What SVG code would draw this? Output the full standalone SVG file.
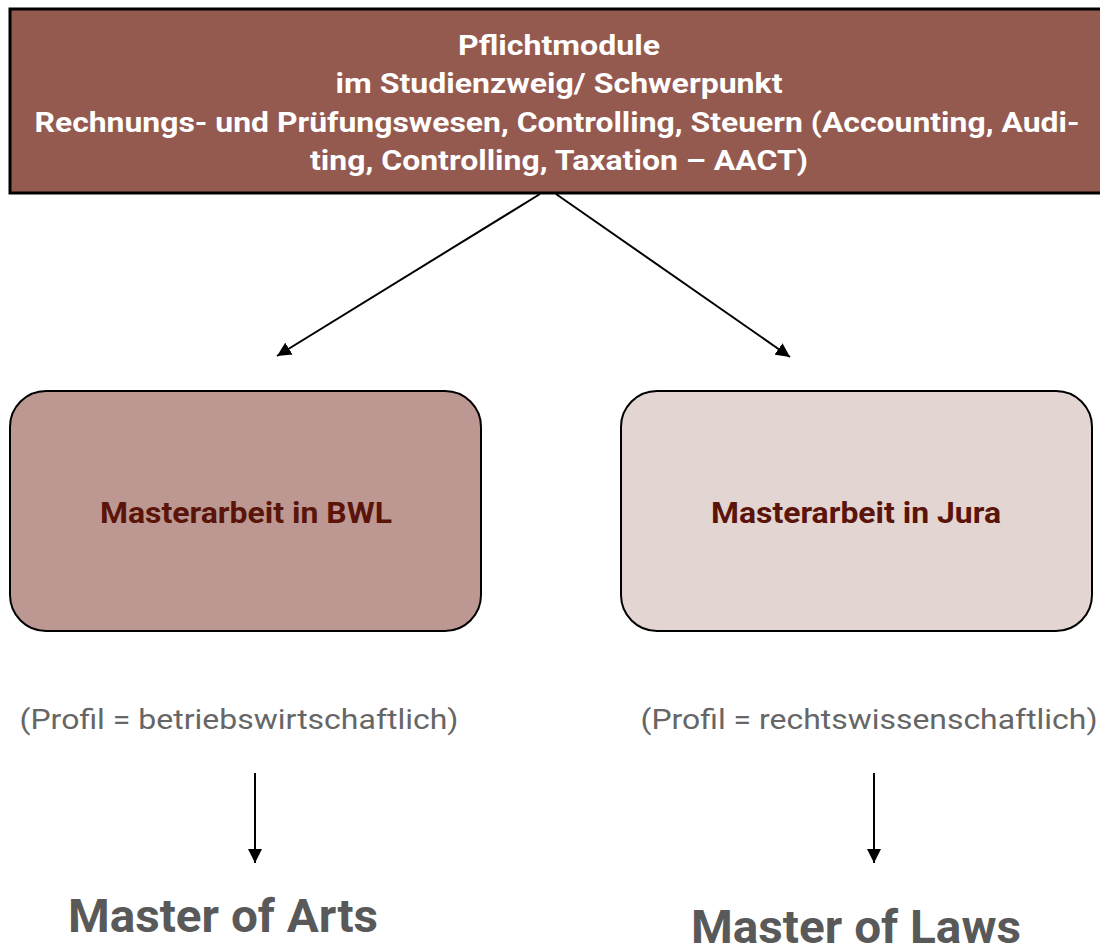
<svg xmlns="http://www.w3.org/2000/svg" width="1100" height="946" viewBox="0 0 1100 946">
<defs>
<style>
.top{font-family:Roboto,"Liberation Sans",sans-serif;font-weight:bold;font-size:27px;fill:#ffffff;text-anchor:middle}
.mid{font-family:Roboto,"Liberation Sans",sans-serif;font-weight:bold;font-size:29px;fill:#5a1409;text-anchor:middle}
.prof{font-family:Roboto,"Liberation Sans",sans-serif;font-size:28px;fill:#666666;text-anchor:middle}
.deg{font-family:Roboto,"Liberation Sans",sans-serif;font-weight:bold;font-size:47px;fill:#595959;text-anchor:middle}
.conn{stroke:#000;stroke-width:2;fill:none;marker-end:url(#ah)}
</style>
<marker id="ah" viewBox="0 0 10 10" refX="10" refY="5" markerWidth="14" markerHeight="14" markerUnits="userSpaceOnUse" orient="auto">
<path d="M0,0 L10,5 L0,10 z" fill="#000"/>
</marker>
</defs>
<rect width="1100" height="946" fill="#fff"/>
<g id="top">
<rect x="10" y="9" width="1100" height="184" fill="#955a4f" stroke="#000" stroke-width="3"/>
<text class="top" x="559" y="55" textLength="202" lengthAdjust="spacingAndGlyphs">Pflichtmodule</text>
<text class="top" x="559" y="93" textLength="447" lengthAdjust="spacingAndGlyphs">im Studienzweig/ Schwerpunkt</text>
<text class="top" x="557" y="132" textLength="1045" lengthAdjust="spacingAndGlyphs">Rechnungs- und Prüfungswesen, Controlling, Steuern (Accounting, Audi-</text>
<text class="top" x="559" y="170" textLength="498" lengthAdjust="spacingAndGlyphs">ting, Controlling, Taxation – AACT)</text>
</g>
<g id="connectors">
<line class="conn" x1="540" y1="194" x2="277" y2="356"/>
<line class="conn" x1="556" y1="194" x2="790" y2="357"/>
<line class="conn" x1="255" y1="773" x2="255" y2="863"/>
<line class="conn" x1="874" y1="773" x2="874" y2="863"/>
</g>
<g id="bwl">
<rect x="10" y="391" width="471" height="240" rx="36" fill="#bd9892" stroke="#000" stroke-width="2"/>
<text class="mid" x="246" y="523" textLength="292" lengthAdjust="spacingAndGlyphs">Masterarbeit in BWL</text>
</g>
<g id="jura">
<rect x="621" y="391" width="471" height="240" rx="36" fill="#e3d5d2" stroke="#000" stroke-width="2"/>
<text class="mid" x="856" y="523" textLength="290" lengthAdjust="spacingAndGlyphs">Masterarbeit in Jura</text>
</g>
<g id="profil-bwl">
<text class="prof" x="239" y="729" textLength="439" lengthAdjust="spacingAndGlyphs">(Profil = betriebswirtschaftlich)</text>
</g>
<g id="profil-jura">
<text class="prof" x="869" y="729" textLength="457" lengthAdjust="spacingAndGlyphs">(Profil = rechtswissenschaftlich)</text>
</g>
<g id="ma">
<text class="deg" x="223" y="932" textLength="310" lengthAdjust="spacingAndGlyphs">Master of Arts</text>
</g>
<g id="ll">
<text class="deg" x="856" y="943" textLength="330" lengthAdjust="spacingAndGlyphs">Master of Laws</text>
</g>
</svg>
